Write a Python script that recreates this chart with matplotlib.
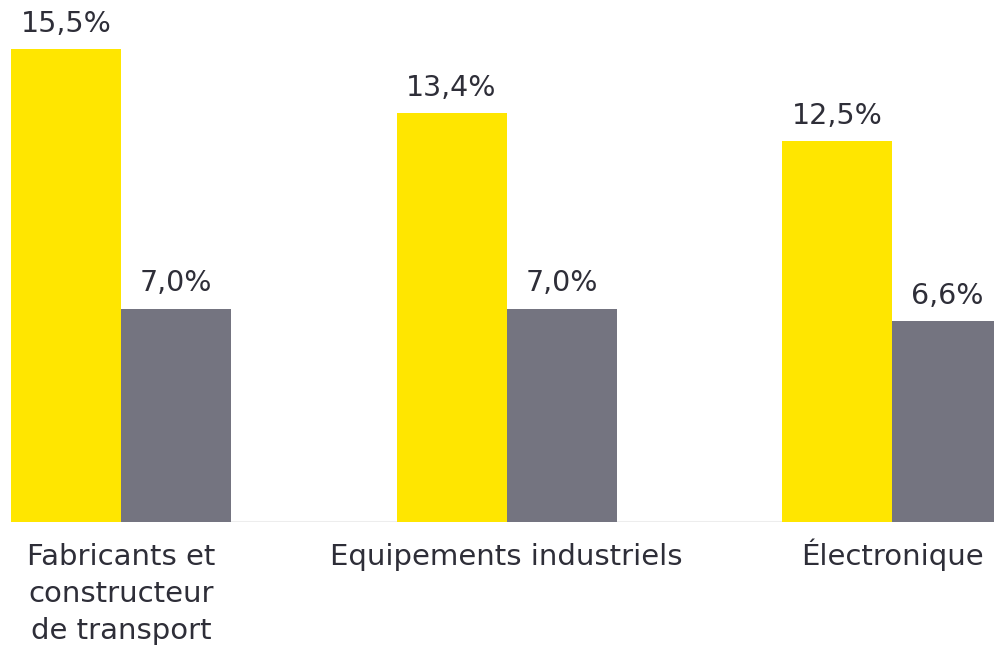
import matplotlib
matplotlib.use("Agg")
import matplotlib.pyplot as plt
import numpy as np

categories = ["Fabricants et\nconstructeur\nde transport", "Equipements industriels", "Électronique"]
series_a = [15.5, 13.4, 12.5]
series_b = [7.0, 7.0, 6.6]

yellow = "#FFE600"
gray = "#747480"
text_col = "#2E2E38"

plt.rcParams['font.family'] = ['DejaVu Sans']

fig = plt.figure(figsize=(9.95, 6.47), dpi=100)
ax = fig.add_axes([0, 125/647, 1, 522/647])

x = np.arange(len(categories))
w = 110/385.5
ax.bar(x - w/2, series_a, width=w, color=yellow, linewidth=0)
ax.bar(x + w/2, series_b, width=w, color=gray, linewidth=0)

for xi, (a, b) in enumerate(zip(series_a, series_b)):
    ax.annotate(f"{a:.1f}%".replace(".", ","), (xi - w/2, a), xytext=(0, 8),
                textcoords="offset points", ha="center", va="bottom", fontsize=20.5, color=text_col)
    ax.annotate(f"{b:.1f}%".replace(".", ","), (xi + w/2, b), xytext=(0, 8),
                textcoords="offset points", ha="center", va="bottom", fontsize=20.5, color=text_col)

ax.set_xlim(-121/385.5, (995-121)/385.5)
ax.set_ylim(0, 522/30.5)
ax.axhline(0, color="#EDEDED", linewidth=1.5, xmin=12/995, zorder=0)

line_step = 26.6  # points between label lines
for xi, cat in zip(x, categories):
    for k, line in enumerate(cat.split("\n")):
        ax.annotate(line, (xi, 0), xytext=(0, -31 - k * line_step), textcoords="offset points",
                    ha="center", va="baseline", fontsize=21, color=text_col,
                    annotation_clip=False)

ax.set_xticks([])
ax.set_yticks([])
for s in ax.spines.values():
    s.set_visible(False)

fig.savefig("out.png", dpi=100)
